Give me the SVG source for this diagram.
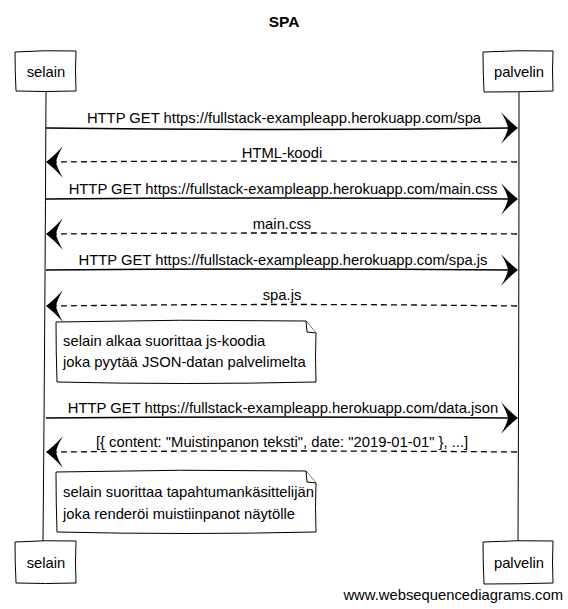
<svg xmlns="http://www.w3.org/2000/svg" xmlns:xlink="http://www.w3.org/1999/xlink" width="568" height="609" viewBox="0 0 568 609">
<style>
text{font-family:"Liberation Sans",Arial,sans-serif;font-size:14.8px;fill:#000}
.title{font-weight:bold;font-size:15.5px}
.box{fill:#fff;stroke:#000;stroke-width:1}
.life{fill:none;stroke:#000;stroke-width:1}
.req{fill:none;stroke:#000;stroke-width:1.5}
.res{fill:none;stroke:#000;stroke-width:1.3;stroke-dasharray:6,4}
.note{fill:#fff;stroke:#000;stroke-width:1}
</style>
<defs>
<path id="ahR" d="M0,0 Q-8,-6 -17,-16 Q-11,-6 -10,0 Q-11,6 -17,16 Q-8,6 0,0 Z" fill="#000"/>
<path id="ahL" d="M0,0 Q8,-6 17,-16 Q11,-6 10,0 Q11,6 17,16 Q8,6 0,0 Z" fill="#000"/>
</defs>
<rect width="568" height="609" fill="#fff"/>
<text class="title" x="284" y="27" text-anchor="middle">SPA</text>

<g id="lifelines">
<path class="life" d="M46,92 Q45,320 43,541"/>
<path class="life" d="M519,92 Q519,320 518,541"/>
</g>

<g id="selain-top">
<path class="box" d="M15,52 Q45,50 76,51 Q75,71 76,91 Q45,92 16,91 Q15,71 15,52 Z"/>
<text x="46" y="77" text-anchor="middle">selain</text>
</g>
<g id="palvelin-top">
<path class="box" d="M483,52 Q518,50 553,51 Q552,71 553,91 Q518,92 484,92 Q483,72 483,52 Z"/>
<text x="519" y="77" text-anchor="middle">palvelin</text>
</g>
<g id="selain-bottom">
<path class="box" d="M15,542 Q45,540 76,541 Q75,562 76,583 Q45,584 16,583 Q15,562 15,542 Z"/>
<text x="46" y="568" text-anchor="middle">selain</text>
</g>
<g id="palvelin-bottom">
<path class="box" d="M483,542 Q518,540 553,541 Q552,562 553,583 Q518,584 484,584 Q483,563 483,542 Z"/>
<text x="519" y="568" text-anchor="middle">palvelin</text>
</g>

<g id="connectors">
<path class="req" d="M46,128 Q280,131 510,128"/>
<use xlink:href="#ahR" x="518" y="128"/>
<text x="284" y="123" text-anchor="middle">HTTP GET https://fullstack-exampleapp.herokuapp.com/spa</text>

<path class="res" d="M517,162 Q280,160 55,162"/>
<use xlink:href="#ahL" x="46" y="162"/>
<text x="282" y="158" text-anchor="middle">HTML-koodi</text>

<path class="req" d="M46,199 Q280,197 510,199"/>
<use xlink:href="#ahR" x="518" y="199"/>
<text x="283" y="194" text-anchor="middle">HTTP GET https://fullstack-exampleapp.herokuapp.com/main.css</text>

<path class="res" d="M517,234 Q280,232 55,234"/>
<use xlink:href="#ahL" x="46" y="234"/>
<text x="282" y="229" text-anchor="middle">main.css</text>

<path class="req" d="M46,270 Q280,268 510,270"/>
<use xlink:href="#ahR" x="518" y="270"/>
<text x="283" y="265" text-anchor="middle">HTTP GET https://fullstack-exampleapp.herokuapp.com/spa.js</text>

<path class="res" d="M517,306 Q280,303 55,306"/>
<use xlink:href="#ahL" x="46" y="306"/>
<text x="282" y="300" text-anchor="middle">spa.js</text>

<path class="req" d="M46,418 Q280,416 510,418"/>
<use xlink:href="#ahR" x="518" y="418"/>
<text x="283" y="413" text-anchor="middle">HTTP GET https://fullstack-exampleapp.herokuapp.com/data.json</text>

<path class="res" d="M517,452 Q280,450 55,452"/>
<use xlink:href="#ahL" x="46" y="452"/>
<text x="282" y="447" text-anchor="middle">[{ content: "Muistinpanon teksti", date: "2019-01-01" }, ...]</text>
</g>

<g id="note1">
<path class="note" d="M56,322 Q180,319 306,321 L316,333 Q315,357 316,382 Q185,385 57,382 Q56,352 56,322 Z"/>
<path class="note" d="M306,321 L307,332 L316,333"/>
<text x="63" y="346">selain alkaa suorittaa js-koodia</text>
<text x="63" y="367">joka pyytää JSON-datan palvelimelta</text>
</g>

<g id="note2">
<path class="note" d="M56,472 Q180,469 306,471 L316,483 Q315,507 316,532 Q185,535 57,532 Q56,502 56,472 Z"/>
<path class="note" d="M306,471 L307,482 L316,483"/>
<text x="63" y="497">selain suorittaa tapahtumankäsittelijän</text>
<text x="63" y="519">joka renderöi muistiinpanot näytölle</text>
</g>

<text x="563" y="600" text-anchor="end">www.websequencediagrams.com</text>
</svg>
